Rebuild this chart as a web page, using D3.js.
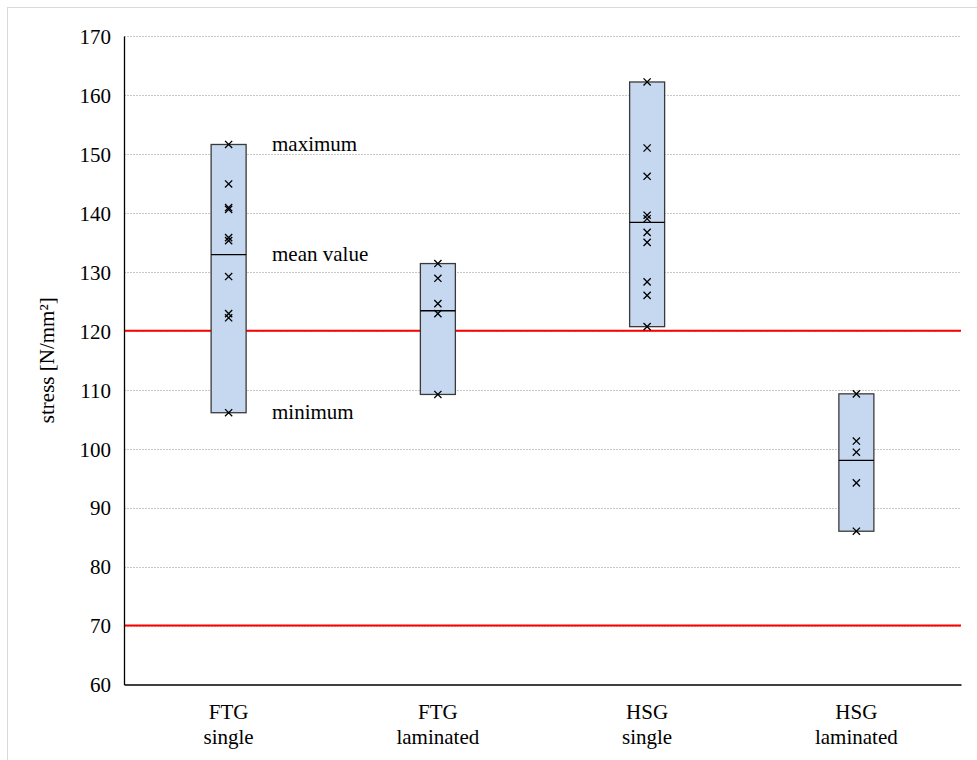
<!DOCTYPE html>
<html><head><meta charset="utf-8">
<script src="https://cdn.jsdelivr.net/npm/d3@7"></script>
<style>body{margin:0;background:#fff}svg{display:block}text{font-family:"Liberation Serif","Times New Roman",serif;fill:#000}</style>
</head><body><svg id="c" width="977" height="760"></svg>
<script>
const categories = ["FTG\nsingle", "FTG\nlaminated", "HSG\nsingle", "HSG\nlaminated"];
const samples = [
  [151.6, 144.9, 140.9, 140.6, 135.8, 135.3, 129.2, 122.9, 122.2, 106.1],
  [131.4, 128.9, 124.6, 122.9, 109.2],
  [162.2, 151.0, 146.2, 139.6, 139.0, 136.7, 135.0, 128.3, 126.0, 120.7],
  [109.3, 101.3, 99.4, 94.2, 86.0]
];
const means = [132.9, 123.4, 138.4, 98.0];
const limitLines = [120, 70];
const yTicks = [60, 70, 80, 90, 100, 110, 120, 130, 140, 150, 160, 170];
const annotations = [["maximum", 151.6], ["mean value", 132.9], ["minimum", 106.1]];

const svg = d3.select("#c");
const L = 124, R = 961, T = 36, B = 684.5;
const x = d3.scaleBand().domain(categories).range([L, R]);
const y = d3.scaleLinear().domain([60, 170]).range([B, T]);

// outer frame
svg.append("rect").attr("x", 7.5).attr("y", 7.5).attr("width", 1000).attr("height", 1000)
  .attr("fill", "none").attr("stroke", "#d9d9d9").attr("stroke-width", 1);

// gridlines
svg.append("g").selectAll("line").data(yTicks.filter(d => d !== 60)).join("line")
  .attr("x1", L).attr("x2", R).attr("y1", d => Math.round(y(d)) + 0.5).attr("y2", d => Math.round(y(d)) + 0.5)
  .attr("stroke", "#c8c8c8").attr("stroke-width", 1).attr("stroke-dasharray", "2,1");

// red limit lines
svg.append("g").selectAll("line").data(limitLines).join("line")
  .attr("x1", L).attr("x2", R).attr("y1", d => y(d)).attr("y2", d => y(d))
  .attr("stroke", "#ff0000").attr("stroke-width", 2);

// axes
const yAxis = d3.axisLeft(y).tickValues(yTicks).tickSize(0).tickPadding(13);
const gy = svg.append("g").attr("transform", `translate(${L},0)`).call(yAxis);
gy.select(".domain").attr("stroke", "#000").attr("stroke-width", 1.3);
gy.selectAll("text").style("font-size", "21px").style("font-family", '"Liberation Serif",serif').attr("dy", "0.35em");

const xAxis = d3.axisBottom(x).tickSize(0).tickFormat("");
const gx = svg.append("g").attr("transform", `translate(0,${B})`).call(xAxis);
gx.select(".domain").attr("stroke", "#000").attr("stroke-width", 1.3);

// category labels
const cl = svg.append("g").selectAll("text").data(categories).join("text")
  .attr("text-anchor", "middle").style("font-size", "21px");
cl.each(function(d) {
  const parts = d.split("\n");
  const t = d3.select(this);
  parts.forEach((p, i) => t.append("tspan").attr("x", x(d) + x.bandwidth() / 2).attr("y", 719 + i * 25).text(p));
});

// boxes
const bw = 35;
const g = svg.append("g");
categories.forEach((c, i) => {
  const cx = x(c) + x.bandwidth() / 2;
  const vals = samples[i];
  const mx = d3.max(vals), mn = d3.min(vals);
  g.append("rect").attr("x", cx - bw / 2).attr("y", y(mx)).attr("width", bw).attr("height", y(mn) - y(mx))
    .attr("fill", "#c6d8ef").attr("stroke", "#3a3a3a").attr("stroke-width", 1.3);
  g.append("line").attr("x1", cx - bw / 2).attr("x2", cx + bw / 2).attr("y1", y(means[i])).attr("y2", y(means[i]))
    .attr("stroke", "#000").attr("stroke-width", 1.3);
  const s = 3.6;
  vals.forEach(v => {
    g.append("path").attr("d", `M${cx - s},${y(v) - s}L${cx + s},${y(v) + s}M${cx - s},${y(v) + s}L${cx + s},${y(v) - s}`)
      .attr("stroke", "#000").attr("stroke-width", 1.3).attr("fill", "none");
  });
});

// annotations
svg.append("g").selectAll("text").data(annotations).join("text")
  .attr("x", 272).attr("y", d => y(d[1])).attr("dy", "0.3em").style("font-size", "21px").text(d => d[0]);

// y title
svg.append("text").attr("transform", `translate(54,${(T + B) / 2}) rotate(-90)`)
  .attr("text-anchor", "middle").style("font-size", "21px").text("stress [N/mm²]");
</script></body></html>
